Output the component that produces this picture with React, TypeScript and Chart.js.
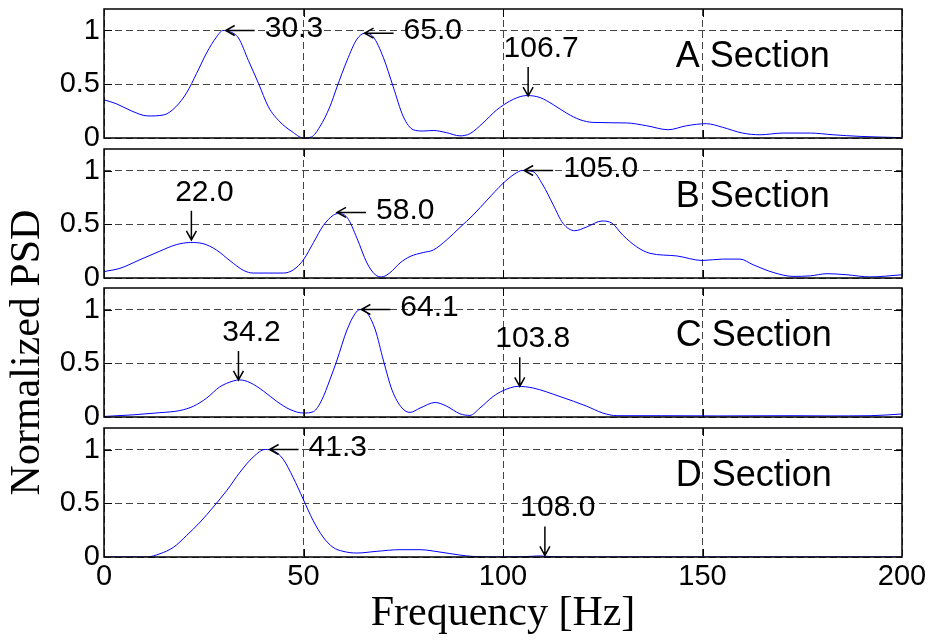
import React, { useEffect, useRef } from 'react';
import { Chart, registerables } from 'chart.js';

Chart.register(...registerables);

// ---------------- data ----------------
const freqA = [0, 3, 7, 11, 15, 18, 20.7, 23.2, 25.7, 28.2, 29.8, 31.5, 33.7, 36.2, 38.7, 41.2, 44.1, 47.1, 50, 52, 54.1, 56.6, 58.4, 60.9, 63.4, 65.4, 67.5, 70, 72.5, 75, 77.5, 80, 82.5, 85.8, 89.2, 91.7, 95, 98.4, 102.6, 106, 109.3, 112.6, 116, 119.3, 122.6, 131, 136, 141.4, 146, 151, 155, 160, 164.4, 170.2, 177, 182.7, 189.5, 200];
const psdA = [0.355, 0.32, 0.25, 0.205, 0.215, 0.29, 0.42, 0.6, 0.79, 0.94, 1.0, 0.99, 0.93, 0.72, 0.51, 0.29, 0.15, 0.06, 0.0, 0.01, 0.105, 0.29, 0.475, 0.72, 0.92, 0.975, 0.94, 0.75, 0.475, 0.2, 0.077, 0.065, 0.07, 0.05, 0.02, 0.04, 0.14, 0.26, 0.36, 0.395, 0.376, 0.31, 0.23, 0.17, 0.145, 0.14, 0.114, 0.077, 0.114, 0.133, 0.1, 0.046, 0.03, 0.046, 0.046, 0.03, 0.015, 0.003];

const freqB = [0, 4, 9, 14, 18.1, 21.7, 24.8, 28.2, 31.6, 35, 37.4, 45, 47.5, 50, 52.5, 55, 57.5, 58.8, 61, 63.4, 65.9, 68, 69.6, 71.7, 74.2, 76.7, 80, 82.5, 85.9, 89.2, 92.5, 96, 100, 103, 104.8, 107.5, 110, 112.6, 115, 118, 121, 124.8, 127.3, 130, 133.5, 136.8, 143.6, 149.9, 155, 159.4, 162.7, 167.7, 172.7, 177, 181.2, 186.2, 192, 200];
const psdB = [0.06, 0.09, 0.17, 0.25, 0.31, 0.33, 0.32, 0.26, 0.16, 0.07, 0.046, 0.046, 0.077, 0.17, 0.33, 0.49, 0.585, 0.6, 0.56, 0.37, 0.14, 0.03, 0.01, 0.05, 0.14, 0.2, 0.237, 0.26, 0.355, 0.47, 0.585, 0.725, 0.88, 0.97, 1.0, 0.99, 0.865, 0.68, 0.51, 0.44, 0.475, 0.53, 0.51, 0.4, 0.29, 0.23, 0.205, 0.163, 0.176, 0.176, 0.123, 0.052, 0.015, 0.02, 0.04, 0.03, 0.01, 0.03];

const freqC = [0, 7.3, 14, 19, 22.4, 25.7, 29, 32.4, 34, 36.6, 40, 43.3, 46.6, 50, 52.5, 54.6, 56.6, 58.4, 60.9, 62.9, 64.2, 65.9, 68, 70, 72.2, 74.7, 76.7, 79.2, 83, 85.9, 89.2, 91.7, 94.2, 97.5, 100, 103.8, 107.5, 114.3, 121, 125, 128.6, 139.8, 154, 172.7, 181.2, 192, 200];
const psdC = [0.005, 0.02, 0.04, 0.06, 0.1, 0.175, 0.28, 0.335, 0.345, 0.32, 0.24, 0.145, 0.07, 0.037, 0.05, 0.16, 0.345, 0.53, 0.81, 0.96, 1.0, 0.97, 0.81, 0.53, 0.25, 0.083, 0.043, 0.083, 0.135, 0.1, 0.03, 0.015, 0.083, 0.19, 0.245, 0.285, 0.27, 0.19, 0.1, 0.037, 0.012, 0.012, 0.01, 0.012, 0.01, 0.012, 0.028];

const freqD = [0, 10.7, 14, 17.4, 20.7, 24.1, 27.4, 30.8, 34.1, 37.4, 40.4, 42.4, 44.9, 47.4, 49.9, 52.4, 54.9, 57.4, 59.9, 63.4, 68.4, 74.2, 79.2, 84.2, 89.2, 92.5, 97, 105, 109, 113, 120, 200];
const psdD = [0, 0, 0.03, 0.09, 0.2, 0.325, 0.465, 0.62, 0.79, 0.93, 1.0, 0.99, 0.91, 0.74, 0.54, 0.34, 0.186, 0.09, 0.053, 0.037, 0.053, 0.068, 0.068, 0.046, 0.018, 0.005, 0, 0.002, 0.01, 0.002, 0, 0];

// peak annotations: label text, arrow tip (freq, value), arrow direction
const peakLabelA = ['30.3', '65.0', '106.7'];
const peakFreqA = [30.5, 65.3, 106.3];
const peakValA = [1.0, 0.975, 0.39];
const peakDirA = ['left', 'left', 'down'];

const peakLabelB = ['22.0', '58.0', '105.0'];
const peakFreqB = [21.9, 58.4, 105.3];
const peakValB = [0.355, 0.61, 1.0];
const peakDirB = ['down', 'left', 'left'];

const peakLabelC = ['34.2', '64.1', '103.8'];
const peakFreqC = [33.7, 64.5, 104.2];
const peakValC = [0.345, 1.0, 0.285];
const peakDirC = ['down', 'left', 'down'];

const peakLabelD = ['41.3', '108.0'];
const peakFreqD = [41.5, 110.5];
const peakValD = [1.0, 0.015];
const peakDirD = ['left', 'down'];

const sectionNames = ['A Section', 'B Section', 'C Section', 'D Section'];
const sectionLabelFreq = 143.3;
const sectionLabelValue = 0.75;

const xTicks = [0, 50, 100, 150, 200];
const yTicks = [0, 0.5, 1];
const yTickLabels = ['0', '0.5', '1'];
const xTitle = 'Frequency [Hz]';
const yTitle = 'Normalized PSD';

// ---------------- layout ----------------
const W = 933;
const H = 640;
const panelTop = [9, 149, 288, 428];
const panelBottom = [138, 278, 417, 557];

const SANS = "'Liberation Sans', Arial, Helvetica, sans-serif";
const SERIF = "'Liberation Serif', 'Times New Roman', serif";

type Panel = {
  freq: number[];
  psd: number[];
  labels: string[];
  pf: number[];
  pv: number[];
  dir: string[];
  name: string;
};

const panels: Panel[] = [
  { freq: freqA, psd: psdA, labels: peakLabelA, pf: peakFreqA, pv: peakValA, dir: peakDirA, name: sectionNames[0] },
  { freq: freqB, psd: psdB, labels: peakLabelB, pf: peakFreqB, pv: peakValB, dir: peakDirB, name: sectionNames[1] },
  { freq: freqC, psd: psdC, labels: peakLabelC, pf: peakFreqC, pv: peakValC, dir: peakDirC, name: sectionNames[2] },
  { freq: freqD, psd: psdD, labels: peakLabelD, pf: peakFreqD, pv: peakValD, dir: peakDirD, name: sectionNames[3] },
];

function makeOverlay(p: Panel) {
  return {
    id: 'overlay',
    afterDatasetsDraw(chart: any) {
      const { ctx, chartArea: a, scales } = chart;
      const x = scales.x;
      const y = scales.y;
      ctx.save();
      ctx.setLineDash([]);
      ctx.strokeStyle = '#000';
      ctx.fillStyle = '#000';
      // inner tick marks
      ctx.lineWidth = 1;
      ctx.beginPath();
      for (const v of xTicks.slice(1, -1)) {
        const px = Math.round(x.getPixelForValue(v)) + 0.5;
        ctx.moveTo(px, a.bottom);
        ctx.lineTo(px, a.bottom - 8);
        ctx.moveTo(px, a.top);
        ctx.lineTo(px, a.top + 8);
      }
      for (const v of yTicks.slice(1)) {
        const py = Math.round(y.getPixelForValue(v)) + 0.5;
        ctx.moveTo(a.left, py);
        ctx.lineTo(a.left + 8, py);
        ctx.moveTo(a.right, py);
        ctx.lineTo(a.right - 8, py);
      }
      ctx.stroke();
      // box
      ctx.lineWidth = 1.5;
      ctx.strokeRect(a.left, a.top, a.right - a.left, a.bottom - a.top);
      // annotations
      ctx.font = `30px ${SANS}`;
      ctx.lineWidth = 1.5;
      p.labels.forEach((lab, i) => {
        const px = x.getPixelForValue(p.pf[i]);
        const py = y.getPixelForValue(p.pv[i]);
        ctx.beginPath();
        if (p.dir[i] === 'left') {
          ctx.moveTo(px, py);
          ctx.lineTo(px + 29, py);
          ctx.moveTo(px + 9, py - 5);
          ctx.lineTo(px, py);
          ctx.lineTo(px + 9, py + 5);
          ctx.stroke();
          ctx.textAlign = 'left';
          ctx.textBaseline = 'middle';
          ctx.fillText(lab, px + 39, py - 2);
        } else {
          ctx.moveTo(px, py - 29);
          ctx.lineTo(px, py);
          ctx.moveTo(px - 5, py - 9);
          ctx.lineTo(px, py);
          ctx.lineTo(px + 5, py - 9);
          ctx.stroke();
          ctx.textAlign = 'center';
          ctx.textBaseline = 'alphabetic';
          ctx.fillText(lab, px + 13, py - 39);
        }
      });
      // section label
      ctx.font = `36px ${SANS}`;
      ctx.textAlign = 'left';
      ctx.textBaseline = 'middle';
      ctx.fillText(p.name, x.getPixelForValue(sectionLabelFreq), y.getPixelForValue(sectionLabelValue));
      ctx.restore();
    },
  };
}

function PanelChart({ idx }: { idx: number }) {
  const ref = useRef<HTMLCanvasElement | null>(null);
  useEffect(() => {
    const p = panels[idx];
    const isLast = idx === panels.length - 1;
    const xAxisH = isLast ? H - panelBottom[idx] : 0;
    const zeroPad = (s: any) => {
      s.paddingTop = 0;
      s.paddingBottom = 0;
      s.paddingLeft = 0;
      s.paddingRight = 0;
    };
    const chart = new Chart(ref.current as HTMLCanvasElement, {
      type: 'line',
      data: {
        datasets: [
          {
            data: p.freq.map((f, i) => ({ x: f, y: p.psd[i] })),
            borderColor: 'rgb(0,0,255)',
            borderWidth: 1,
            pointRadius: 0,
            fill: false,
            cubicInterpolationMode: 'monotone',
          },
        ],
      },
      options: {
        animation: false,
        responsive: false,
        events: [],
        layout: {
          padding: {
            left: 0,
            right: W - 902,
            top: panelTop[idx],
            bottom: H - panelBottom[idx] - xAxisH,
          },
        },
        plugins: {
          legend: { display: false },
          tooltip: { enabled: false },
        },
        scales: {
          x: {
            type: 'linear',
            min: 0,
            max: 200,
            afterBuildTicks: (s: any) => {
              s.ticks = xTicks.map((v) => ({ value: v }));
            },
            afterFit: (s: any) => {
              s.height = xAxisH;
              zeroPad(s);
            },
            ticks: {
              display: isLast,
              color: '#000',
              font: { family: SANS, size: 29 },
              padding: 3,
              maxRotation: 0,
              autoSkip: false,
              callback: (v: any) => String(v),
            },
            grid: { color: '#444', lineWidth: 1, drawTicks: false },
            border: { display: false, dash: [7, 4] },
            title: {
              display: isLast,
              text: xTitle,
              color: '#000',
              font: { family: SERIF, size: 42 },
              padding: { top: 0, bottom: 1 },
            },
          },
          y: {
            type: 'linear',
            min: 0,
            max: 1.2,
            afterBuildTicks: (s: any) => {
              s.ticks = yTicks.map((v) => ({ value: v }));
            },
            afterFit: (s: any) => {
              s.width = 104;
              zeroPad(s);
            },
            ticks: {
              color: '#000',
              font: { family: SANS, size: 29 },
              padding: 4,
              autoSkip: false,
              callback: (v: any) => {
                const k = yTicks.indexOf(Number(v));
                return k >= 0 ? yTickLabels[k] : String(v);
              },
            },
            grid: { color: '#444', lineWidth: 1, drawTicks: false },
            border: { display: false, dash: [7, 4] },
            title: {
              display: idx === 2,
              text: yTitle,
              color: '#000',
              font: { family: SERIF, size: 42 },
              padding: { top: 3, bottom: 0 },
            },
          },
        },
      },
      plugins: [makeOverlay(p)],
    } as any);
    return () => chart.destroy();
  }, [idx]);
  return (
    <canvas
      ref={ref}
      width={W}
      height={H}
      style={{ position: 'absolute', left: 0, top: 0, width: W, height: H }}
    />
  );
}

export default function App() {
  return (
    <div style={{ position: 'absolute', left: 0, top: 0, width: W, height: H, background: '#fff' }}>
      {panels.map((_, i) => (
        <PanelChart key={i} idx={i} />
      ))}
    </div>
  );
}
